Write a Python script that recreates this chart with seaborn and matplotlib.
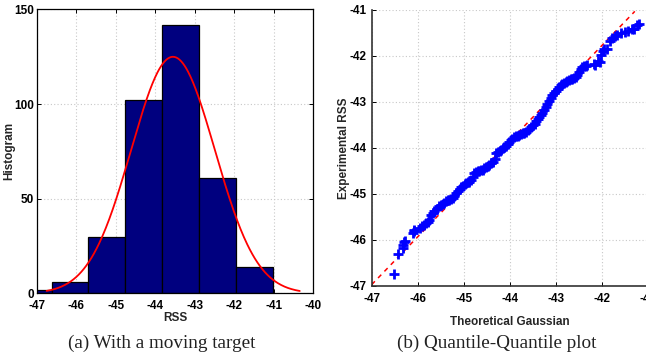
import numpy as np
import pandas as pd
import matplotlib
matplotlib.use("Agg")
import matplotlib.pyplot as plt
import seaborn as sns

# ---- data: histogram (a) ----
bin_edges = [-47.55, -46.62, -45.69, -44.76, -43.82, -42.89, -41.95, -41.01]
bin_counts = [2, 6, 30, 102, 142, 61, 14]
fit_mu = -43.55
fit_sigma = 1.06
fit_range = [-46.75, -40.34]

# ---- data: Q-Q plot (b) ----
qq_theoretical = [
    -46.52, -46.43, -46.33, -46.31, -46.29, -46.27, -46.11, -46.09, -46.07, -45.96,
    -45.91, -45.86, -45.82, -45.78, -45.75, -45.71, -45.67, -45.64, -45.58, -45.53,
    -45.49, -45.45, -45.42, -45.38, -45.35, -45.31, -45.28, -45.24, -45.20, -45.17,
    -45.13, -45.09, -45.05, -45.02, -44.98, -44.95, -44.91, -44.88, -44.84, -44.80,
    -44.77, -44.73, -44.69, -44.66, -44.62, -44.59, -44.55, -44.51, -44.48, -44.44,
    -44.40, -44.37, -44.33, -44.30, -44.26, -44.22, -44.19, -44.15, -44.12, -44.08,
    -44.04, -44.01, -43.97, -43.94, -43.90, -43.86, -43.83, -43.79, -43.75, -43.72,
    -43.68, -43.65, -43.61, -43.57, -43.54, -43.50, -43.46, -43.43, -43.39, -43.36,
    -43.32, -43.29, -43.25, -43.21, -43.18, -43.14, -43.11, -43.07, -43.04, -43.00,
    -42.96, -42.93, -42.89, -42.86, -42.82, -42.78, -42.75, -42.71, -42.67, -42.64,
    -42.60, -42.56, -42.53, -42.49, -42.46, -42.42, -42.38, -42.34, -42.31, -42.17,
    -42.14, -42.09, -42.04, -42.02, -41.98, -41.94, -41.88, -41.81, -41.77, -41.72,
    -41.66, -41.57, -41.49, -41.42, -41.35, -41.30, -41.23, -41.19]
qq_experimental = [
    -46.74, -46.30, -46.17, -46.10, -46.05, -46.02, -45.85, -45.80, -45.78, -45.74,
    -45.70, -45.67, -45.63, -45.60, -45.56, -45.45, -45.41, -45.38, -45.32, -45.27,
    -45.23, -45.21, -45.19, -45.16, -45.14, -45.12, -45.11, -45.08, -45.04, -44.98,
    -44.94, -44.89, -44.85, -44.83, -44.79, -44.77, -44.75, -44.73, -44.70, -44.63,
    -44.55, -44.52, -44.51, -44.50, -44.48, -44.47, -44.44, -44.41, -44.39, -44.37,
    -44.33, -44.30, -44.23, -44.12, -44.09, -44.07, -44.05, -44.01, -43.98, -43.95,
    -43.91, -43.87, -43.83, -43.80, -43.76, -43.75, -43.73, -43.71, -43.69, -43.68,
    -43.67, -43.65, -43.62, -43.58, -43.55, -43.51, -43.47, -43.42, -43.37, -43.33,
    -43.29, -43.24, -43.17, -43.12, -43.05, -42.97, -42.91, -42.85, -42.80, -42.76,
    -42.71, -42.68, -42.64, -42.61, -42.58, -42.56, -42.55, -42.53, -42.51, -42.50,
    -42.48, -42.45, -42.42, -42.35, -42.28, -42.25, -42.22, -42.21, -42.20, -42.17,
    -42.20, -42.11, -42.14, -41.98, -41.90, -41.85, -41.84, -41.68, -41.62, -41.56,
    -41.55, -41.50, -41.47, -41.46, -41.42, -41.42, -41.33, -41.31]
ref_line_x = [-47.0, -41.28]
ref_line_y = [-46.97, -41.03]

hist_xticks = [-47, -46, -45, -44, -43, -42, -41, -40]
hist_yticks = [0, 50, 100, 150]
qq_ticks = [-47, -46, -45, -44, -43, -42, -41]

sns.set_theme(style="white")
plt.rcParams['font.family'] = ['Liberation Sans Narrow', 'Liberation Sans', 'DejaVu Sans']
plt.rcParams['font.weight'] = 'bold'

fig = plt.figure(figsize=(6.46, 3.6), dpi=100)
ax1 = fig.add_axes([0.0568, 0.185, 0.428, 0.789])
ax2 = fig.add_axes([0.5754, 0.2056, 0.4272, 0.7667])

tickfont = dict(fontsize=8.5, fontweight='bold')
gridkw = dict(color='#c8c8c8', linestyle=(0, (1, 2)), linewidth=0.8)

# ---- (a) histogram ----
centers = [(bin_edges[i] + bin_edges[i + 1]) / 2 for i in range(len(bin_counts))]
hdf = pd.DataFrame({'rss': centers, 'count': bin_counts})
sns.histplot(data=hdf, x='rss', weights='count', bins=bin_edges, ax=ax1,
             color='#00007f', edgecolor='black', linewidth=0.9, alpha=1, zorder=2)
xs = np.linspace(fit_range[0], fit_range[1], 300)
bw = bin_edges[2] - bin_edges[1]
ys = sum(bin_counts) * bw / (fit_sigma * np.sqrt(2 * np.pi)) * np.exp(-0.5 * ((xs - fit_mu) / fit_sigma) ** 2)
sns.lineplot(x=xs, y=ys, ax=ax1, color='red', linewidth=1.3, zorder=3)
ax1.set_xlim(-47, -40)
ax1.set_ylim(0, 150)
ax1.set_xticks(hist_xticks)
ax1.set_yticks(hist_yticks)
ax1.set_xticklabels([str(t) for t in hist_xticks], **tickfont)
ax1.set_yticklabels([str(t) for t in hist_yticks], **tickfont)
ax1.grid(True, **gridkw)
ax1.set_axisbelow(True)
ax1.set_xlabel('RSS', fontsize=8.5, fontweight='bold', labelpad=0)
ax1.set_ylabel('Histogram', fontsize=8.5, fontweight='bold')
ax1.yaxis.set_label_coords(-0.076, 0.5)
ax1.tick_params(direction='in', length=3, width=0.7, top=True, right=True,
                bottom=True, left=True, colors='black')
ax1.tick_params(axis='x', pad=5)
ax1.tick_params(axis='y', pad=2)
for s in ax1.spines.values():
    s.set_color('black')
    s.set_linewidth(0.9)

# ---- (b) Q-Q plot ----
sns.lineplot(x=ref_line_x, y=ref_line_y, ax=ax2, color='red', linewidth=1.1,
             dashes=False, zorder=2)
ax2.lines[-1].set_linestyle((0, (3, 3)))
sns.scatterplot(x=qq_theoretical, y=qq_experimental, ax=ax2, marker='+',
                color='#0000ff', s=42, linewidth=2.0, zorder=3)
ax2.set_xlim(-47, -41)
ax2.set_ylim(-47, -41)
ax2.set_xticks(qq_ticks)
ax2.set_yticks(qq_ticks)
ax2.set_xticklabels([str(t) for t in qq_ticks], **tickfont)
ax2.set_yticklabels([str(t) for t in qq_ticks], **tickfont)
ax2.grid(True, **gridkw)
ax2.set_axisbelow(True)
ax2.set_xlabel('Theoretical Gaussian', fontsize=8.5, fontweight='bold', labelpad=8)
ax2.set_ylabel('Experimental RSS', fontsize=8.5, fontweight='bold')
ax2.yaxis.set_label_coords(-0.079, 0.5)
ax2.tick_params(direction='in', length=3, width=0.7, bottom=True, left=True,
                colors='black')
ax2.tick_params(axis='x', pad=5)
ax2.tick_params(axis='y', pad=4)
ax2.spines['top'].set_visible(False)
ax2.spines['right'].set_visible(False)
for s in ['left', 'bottom']:
    ax2.spines[s].set_color('#333333')
    ax2.spines[s].set_linewidth(1.2)

# ---- captions ----
fig.text(162 / 646, 1 - 343 / 360, '(a) With a moving target', ha='center', va='center',
         family=['Liberation Serif', 'DejaVu Serif'], fontweight='normal', fontsize=13.8,
         color='#222222')
fig.text(497 / 646, 1 - 343 / 360, '(b) Quantile-Quantile plot', ha='center', va='center',
         family=['Liberation Serif', 'DejaVu Serif'], fontweight='normal', fontsize=13.8,
         color='#222222')

fig.savefig('out.png', dpi=100)
